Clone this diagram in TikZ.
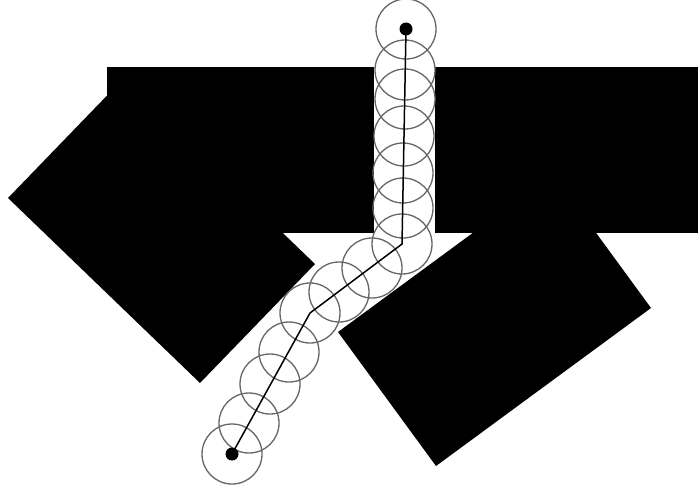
\documentclass[tikz,border=0pt]{standalone}
\begin{document}
\begin{tikzpicture}[x=1pt,y=-1pt,
  block/.style={fill=black,draw=none},
  ring/.style={circle,draw=black!60,line width=1.3pt,minimum size=60pt,inner sep=0pt},
  enddot/.style={circle,fill=black,minimum size=13pt,inner sep=0pt},
  track/.style={draw=black,line width=1.5pt}]
\useasboundingbox (0,0) rectangle (698,487);
% black obstacles
\fill[block] (107,67) rectangle (374,233);
\fill[block] (435,67) rectangle (698,233);
\fill[block] (8,198) -- (200,383) -- (315,264) -- (123,79) -- cycle;
\fill[block] (338,332) -- (436,466) -- (651,308) -- (553,174) -- cycle;
% swept discs
\foreach \n/\p in {c1/{(406,29)},c2/{(405,70)},c3/{(405,99)},c4/{(404,136)},c5/{(403,173)},c6/{(403,208)},c7/{(402,244)},c8/{(372,268)},c9/{(339,292)},c10/{(310,313)},c11/{(289,352)},c12/{(270,384)},c13/{(249,423)},c14/{(232,454)}}
  \node[ring] (\n) at \p {};
% path
\coordinate (k1) at (402,244);
\coordinate (k2) at (310,313);
\node[enddot] (start) at (406,29) {};
\node[enddot] (goal) at (232,454) {};
\draw[track] (start.center) -- (k1) -- (k2) -- (goal.center);
\end{tikzpicture}
\end{document}
